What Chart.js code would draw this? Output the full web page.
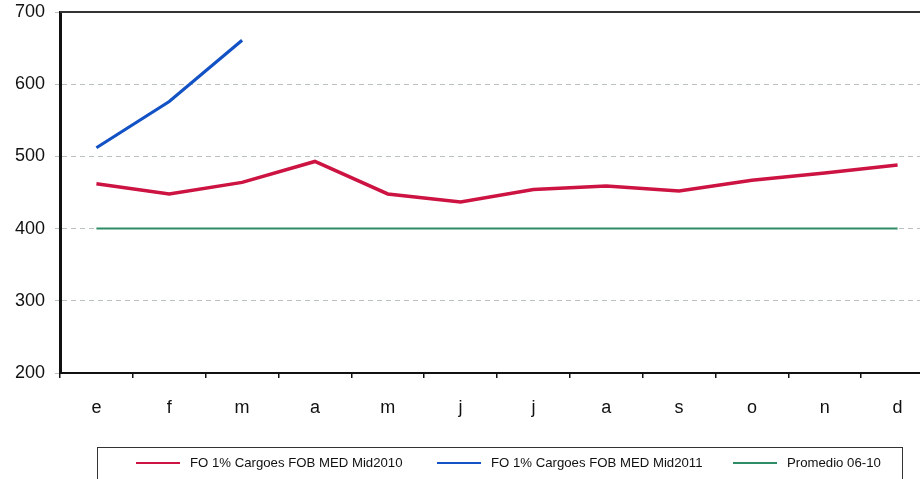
<!DOCTYPE html>
<html lang="es">
<head>
<meta charset="UTF-8">
<title>FO 1% Cargoes FOB MED</title>
<script src="https://cdn.jsdelivr.net/npm/chart.js"></script>
<style>
  html, body { margin: 0; padding: 0; background: #fff; overflow: hidden; }
  #wrap { position: relative; width: 936px; height: 479px; }
  #legend {
    position: absolute; left: 97px; top: 447px; width: 804px; height: 40px;
    border: 1.5px solid #333; font-family: "Liberation Sans", Arial, sans-serif;
    font-size: 13.2px; color: #111;
  }
  .item { position: absolute; top: 7px; white-space: nowrap; display: flex; align-items: center; }
  .swatch { display: inline-block; width: 44px; height: 2px; margin-right: 10px; }
</style>
</head>
<body>
<div id="wrap">
  <canvas id="chart" width="936" height="479"></canvas>
  <div id="legend"></div>
</div>
<script>
// meses
const months = ['e', 'f', 'm', 'a', 'm', 'j', 'j', 'a', 's', 'o', 'n', 'd'];

// valores ($/t)
const mid2010 = [462, 448, 464, 493, 448, 437, 454, 459, 452, 467, 477, 488];
const mid2011 = [512, 576, 661, null, null, null, null, null, null, null, null, null];
const promedio = [400, 400, 400, 400, 400, 400, 400, 400, 400, 400, 400, 400];

const seriesNames = ['FO 1% Cargoes FOB MED Mid2010', 'FO 1% Cargoes FOB MED Mid2011', 'Promedio 06-10'];
const seriesColors = ['#cc1342', '#1352c4', '#2e8d67'];

const yMin = 200, yMax = 700, yStep = 100;

// borde superior del área del gráfico
const topBorder = {
  id: 'topBorder',
  afterDraw(chart) {
    const { ctx, chartArea } = chart;
    ctx.save();
    ctx.strokeStyle = '#333';
    ctx.lineWidth = 2;
    ctx.beginPath();
    ctx.moveTo(chartArea.left, chartArea.top);
    ctx.lineTo(chartArea.right, chartArea.top);
    ctx.stroke();
    ctx.restore();
  }
};

new Chart(document.getElementById('chart'), {
  type: 'line',
  data: {
    labels: months,
    datasets: [
      { label: seriesNames[2], data: promedio, borderColor: seriesColors[2], borderWidth: 2, pointRadius: 0, tension: 0 },
      { label: seriesNames[0], data: mid2010, borderColor: seriesColors[0], borderWidth: 3.5, pointRadius: 0, tension: 0 },
      { label: seriesNames[1], data: mid2011, borderColor: seriesColors[1], borderWidth: 3.2, pointRadius: 0, tension: 0 }
    ]
  },
  options: {
    responsive: false,
    animation: false,
    layout: { padding: { top: 12, right: 2, left: 0, bottom: 0 } },
    plugins: { legend: { display: false }, tooltip: { enabled: false } },
    scales: {
      x: {
        offset: true,
        afterFit(scale) { scale.height = 106; },
        grid: { offset: true, drawOnChartArea: false, tickLength: 5, color: '#111', lineWidth: 1.5 },
        border: { color: '#111', width: 2 },
        ticks: { color: '#111', padding: 19, font: { family: 'Liberation Sans', size: 18 } }
      },
      y: {
        min: yMin, max: yMax,
        afterFit(scale) { scale.width = 60; scale.paddingTop = 0; scale.paddingBottom = 0; },
        ticks: { stepSize: yStep, color: '#111', padding: 10, font: { family: 'Liberation Sans', size: 18 } },
        grid: {
          color: ctx => (ctx.tick && (ctx.tick.value === yMin || ctx.tick.value === yMax)) ? 'rgba(0,0,0,0)' : '#b9c0c4',
          tickColor: '#b9c0c4',
          tickLength: 5,
          lineWidth: 1
        },
        border: { color: '#111', width: 3, dash: [5, 4] }
      }
    }
  },
  plugins: [topBorder]
});

// leyenda
const legend = document.getElementById('legend');
const legendLeft = [38, 339, 635];
[0, 1, 2].forEach(i => {
  const item = document.createElement('div');
  item.className = 'item';
  item.style.left = legendLeft[i] + 'px';
  item.innerHTML = `<span class="swatch" style="background:${seriesColors[i]}"></span>${seriesNames[i]}`;
  legend.appendChild(item);
});
</script>
</body>
</html>
